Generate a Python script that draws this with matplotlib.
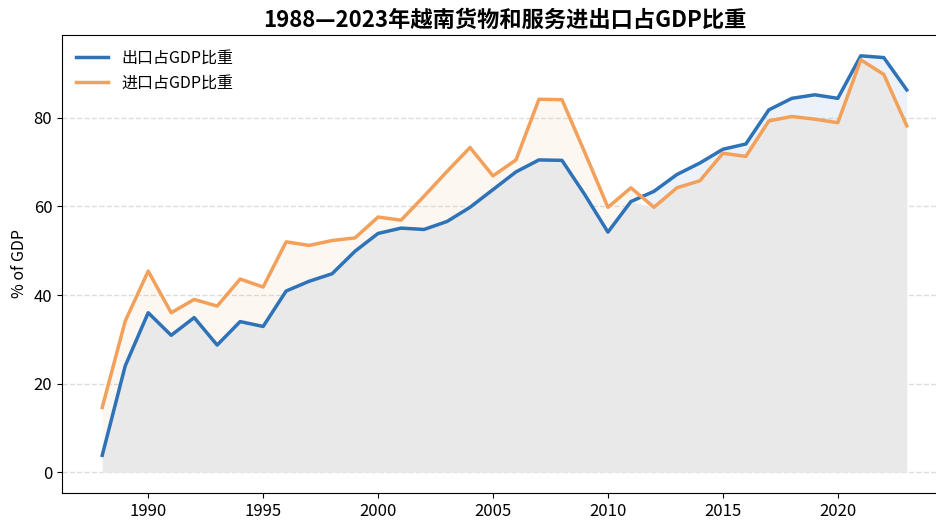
import matplotlib
matplotlib.use("Agg")
import matplotlib.pyplot as plt
import numpy as np

plt.rcParams['font.family'] = ['Noto Sans CJK SC', 'DejaVu Sans']

# 越南货物和服务进出口占GDP比重 (%)
years = list(range(1988, 2024))
export_pct = [3.8, 24.0, 36.0, 30.9, 34.9, 28.7, 34.0, 32.9, 40.9, 43.1,
              44.8, 49.9, 53.9, 55.1, 54.8, 56.6, 59.8, 63.8, 67.8, 70.5,
              70.4, 62.6, 54.2, 61.1, 63.4, 67.2, 69.8, 72.9, 74.1, 81.8,
              84.4, 85.2, 84.4, 94.0, 93.6, 86.3]
import_pct = [14.6, 34.1, 45.4, 36.0, 39.0, 37.5, 43.6, 41.8, 52.0, 51.2,
              52.3, 52.9, 57.6, 56.9, 62.3, 67.9, 73.3, 66.9, 70.5, 84.2,
              84.1, 72.1, 59.8, 64.2, 59.8, 64.2, 65.8, 72.0, 71.3, 79.3,
              80.3, 79.7, 78.9, 93.1, 89.8, 78.2]

x = np.array(years)
ex = np.array(export_pct)
im = np.array(import_pct)

fig = plt.figure(figsize=(9.37, 5.25), dpi=100)
ax = fig.add_axes([62 / 937, 1 - 493 / 525, 885 / 937, 458 / 525])

blue = '#2e72b8'
orange = '#f2a05a'

# 灰色底：0 到两条线中较低者
ax.fill_between(x, 0, np.minimum(ex, im), color='#e9e9e9', linewidth=0)
ax.fill_between(x, ex, im, where=im >= ex, interpolate=True,
                color=orange, alpha=0.08, linewidth=0)
ax.fill_between(x, ex, im, where=ex >= im, interpolate=True,
                color=blue, alpha=0.09, linewidth=0)

ax.plot(x, ex, color=blue, linewidth=2.5, label='出口占GDP比重')
ax.plot(x, im, color=orange, linewidth=2.5, label='进口占GDP比重')

ax.set_title('1988—2023年越南货物和服务进出口占GDP比重',
             fontsize=16, fontweight='bold', pad=6)
ax.set_ylabel('% of GDP', fontsize=11.5)
ax.set_yticks([0, 20, 40, 60, 80])
ax.set_xticks([1990, 1995, 2000, 2005, 2010, 2015, 2020])
ax.tick_params(labelsize=12)
ax.grid(axis='y', linestyle='--', color='#dddddd', linewidth=1)
ax.set_axisbelow(True)
ax.set_xlim(1986.25, 2024.75)
ax.set_ylim(-4.7, 98.7)

ax.legend(loc='upper left', frameon=False, fontsize=11.5)

fig.savefig('out.png', dpi=100)
